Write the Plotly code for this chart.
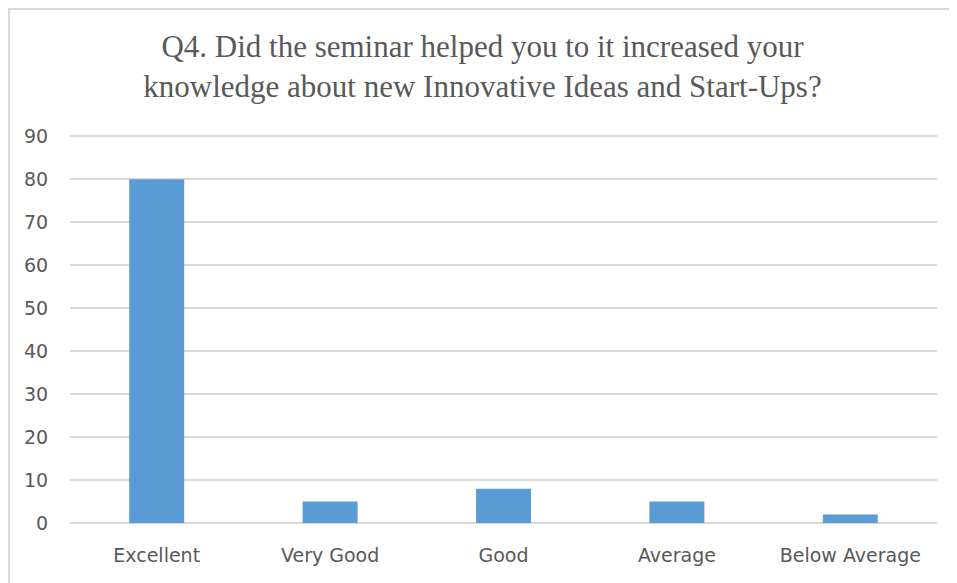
import plotly.graph_objects as go

categories = ["Excellent", "Very Good", "Good", "Average", "Below Average"]
values = [80, 5, 8, 5, 2]
y_ticks = [0, 10, 20, 30, 40, 50, 60, 70, 80, 90]

title_text = ("Q4. Did the seminar helped you to it increased your<br>"
              "knowledge about new Innovative Ideas and Start-Ups?")

# page body has an 8px offset, so the figure is sized to fit the window
W, H = 949, 575
L, R, T, B = 62, 20, 127, 60
pw, ph = W - L - R, H - T - B

fig = go.Figure(go.Bar(x=categories, y=values, marker_color="#5B9BD5",
                       marker_line_width=0))

def px_to_paper_x(px):
    return (px - L) / pw

def px_to_paper_y(py):
    return (H - B - py) / ph

border_color = "#D9D9D9"
bx = px_to_paper_x(0)
by = px_to_paper_y(1)
fig.add_shape(type="line", xref="paper", yref="paper", x0=bx, x1=px_to_paper_x(W + 5),
              y0=by, y1=by, line=dict(color=border_color, width=2))
fig.add_shape(type="line", xref="paper", yref="paper", x0=px_to_paper_x(1), x1=px_to_paper_x(1),
              y0=by, y1=px_to_paper_y(H + 5), line=dict(color=border_color, width=2))

fig.update_layout(
    width=W, height=H,
    margin=dict(l=L, r=R, t=T, b=B),
    paper_bgcolor="white", plot_bgcolor="white",
    bargap=0.683,
    showlegend=False,
    title=dict(text=title_text, x=0.5, xanchor="center", y=1 - 49 / H, yanchor="middle",
               font=dict(family="Liberation Serif", size=31, color="#595959")),
    xaxis=dict(showgrid=False, showline=False, zeroline=False,
               ticks="outside", ticklen=15, tickcolor="rgba(0,0,0,0)",
               tickfont=dict(family="DejaVu Sans", size=19, color="#595959")),
    yaxis=dict(range=[0, 90.3], tickvals=y_ticks, showgrid=True, gridcolor="#D9D9D9",
               gridwidth=1.5, zeroline=True, zerolinecolor="#D9D9D9", zerolinewidth=1.5,
               showline=False, ticks="outside", ticklen=17, tickcolor="rgba(0,0,0,0)",
               tickfont=dict(family="DejaVu Sans", size=19, color="#595959")),
)

fig.write_html("out.html")
